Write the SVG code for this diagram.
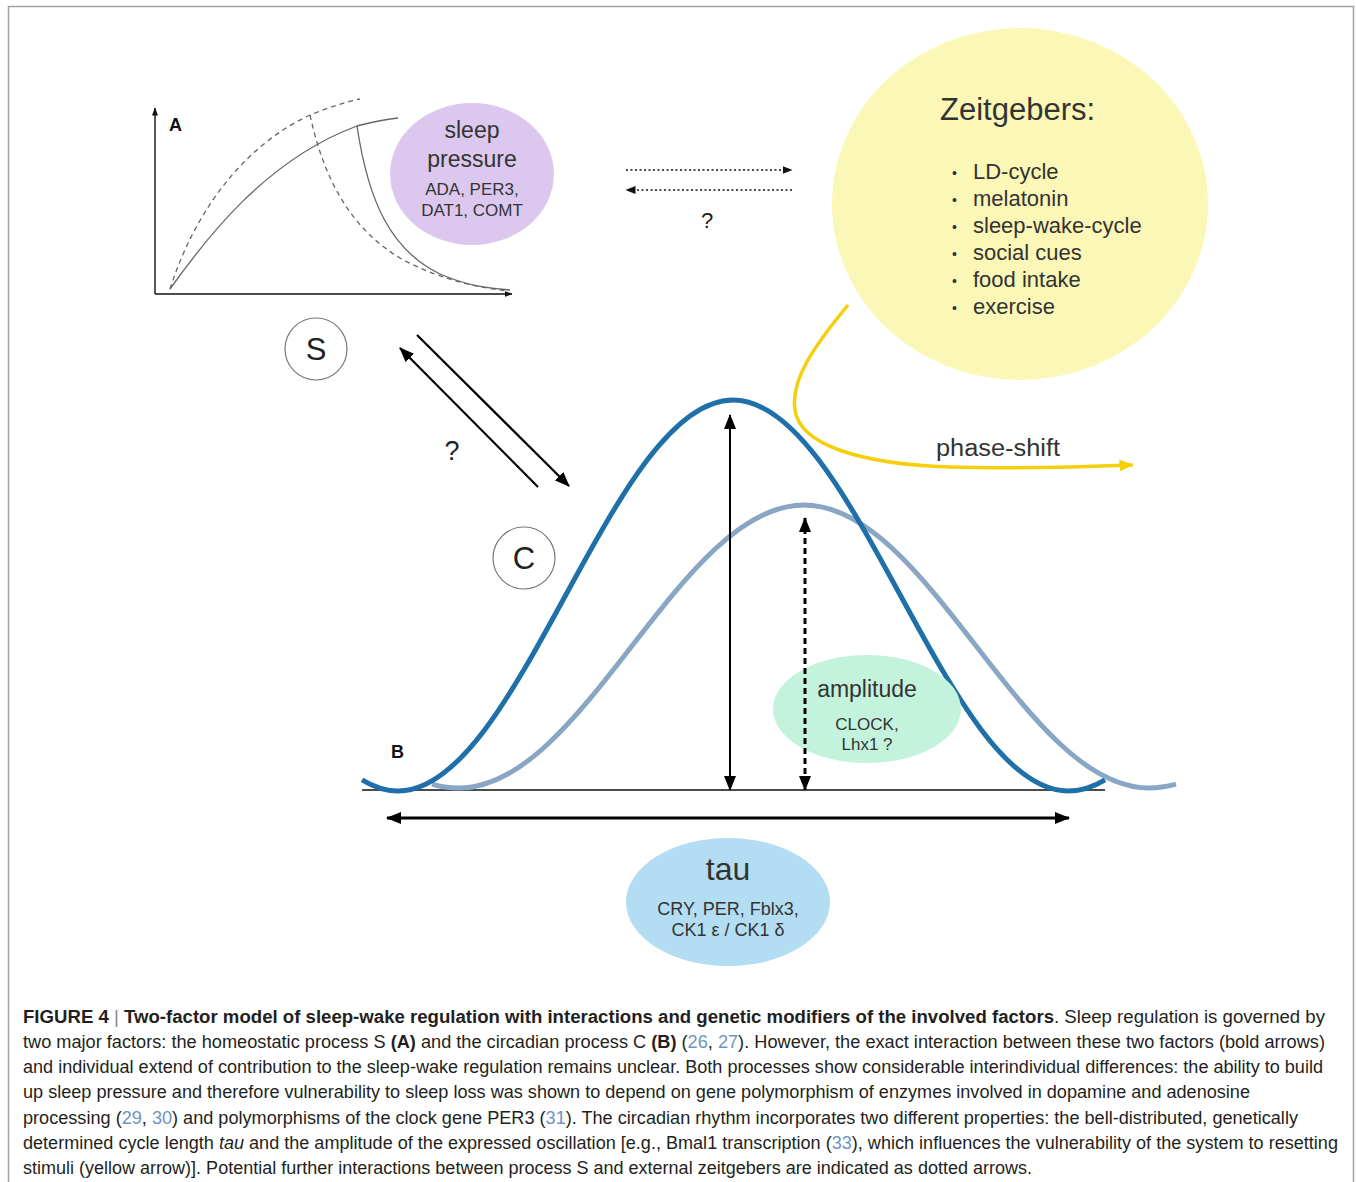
<svg xmlns="http://www.w3.org/2000/svg" width="1356" height="1182" viewBox="0 0 1356 1182">
<style>
  text { font-family: "Liberation Sans", Arial, sans-serif; }
  .lbl { fill: #333; }
  .cap { fill: #231f20; font-size: 17.5px; }
  .ref { fill: #6f93c2; }
  .b { font-weight: bold; }
  .ax { stroke: #111; stroke-width: 1.4; fill: none; }
  .sc { stroke: #666; stroke-width: 1.3; fill: none; }
  .scd { stroke: #666; stroke-width: 1.3; fill: none; stroke-dasharray: 5 4; }
  .node { stroke: #777; stroke-width: 1.2; fill: #fff; }
  .bold { stroke: #000; stroke-width: 2.2; fill: none; }
  .dot { stroke: #111; stroke-width: 1.6; fill: none; stroke-dasharray: 2 2.5; }
</style>
<defs>
  <marker id="ah" viewBox="0 0 15 12" refX="14" refY="6" markerWidth="15" markerHeight="12" markerUnits="userSpaceOnUse" orient="auto-start-reverse">
    <path d="M0,0 L15,6 L0,12 Z" fill="#000"/>
  </marker>
  <marker id="ahs" viewBox="0 0 8 6" refX="7.5" refY="3" markerWidth="8" markerHeight="6" markerUnits="userSpaceOnUse" orient="auto-start-reverse">
    <path d="M0,0 L8,3 L0,6 Z" fill="#111"/>
  </marker>
  <marker id="ahd" viewBox="0 0 10 8" refX="9.5" refY="4" markerWidth="10" markerHeight="8" markerUnits="userSpaceOnUse" orient="auto-start-reverse">
    <path d="M0,0 L10,4 L0,8 Z" fill="#111"/>
  </marker>
  <marker id="ahy" viewBox="0 0 14 12" refX="13.5" refY="6" markerWidth="14" markerHeight="12" markerUnits="userSpaceOnUse" orient="auto">
    <path d="M0,0 L14,6 L0,12 Z" fill="#f5cf0c"/>
  </marker>
</defs>

<rect x="8.5" y="6.5" width="1345" height="1195" fill="#fff" stroke="#a3a3a3" stroke-width="1.5"/>

<!-- Panel A plot -->
<g id="panelA">
  <path class="ax" d="M155,294 V108" marker-end="url(#ahs)"/>
  <path class="ax" d="M155,294 H512" marker-end="url(#ahs)"/>
  <text x="169" y="131" class="b" font-size="18" fill="#111">A</text>
  <path class="sc" d="M170,289 C205,240 265,160 357,126 Q380,120 398,118"/>
  <path class="sc" d="M357,126 C368,200 390,250 440,274 C470,287 490,288 510,290"/>
  <path class="scd" d="M170,289 C195,210 245,145 310,115 C330,107 345,102 360,99"/>
  <path class="scd" d="M310,115 C322,170 345,225 400,258 C440,280 480,288 508,291"/>
</g>

<g id="sleep-pressure">
  <ellipse cx="472" cy="174" rx="82" ry="71" fill="#dcc8ef"/>
  <text class="lbl" x="472" y="138" font-size="23" text-anchor="middle">sleep</text>
  <text class="lbl" x="472" y="167" font-size="23" text-anchor="middle">pressure</text>
  <text class="lbl" x="472" y="195" font-size="17" text-anchor="middle">ADA, PER3,</text>
  <text class="lbl" x="472" y="216" font-size="17" text-anchor="middle">DAT1, COMT</text>
</g>

<g id="zeitgebers">
  <ellipse cx="1020" cy="204" rx="188" ry="176" fill="#fbf7b6"/>
  <text class="lbl" x="940" y="120" font-size="31">Zeitgebers:</text>
  <g class="lbl" font-size="22">
    <text x="952" y="178" font-size="14">•</text><text x="973" y="179">LD-cycle</text>
    <text x="952" y="205" font-size="14">•</text><text x="973" y="206">melatonin</text>
    <text x="952" y="232" font-size="14">•</text><text x="973" y="233">sleep-wake-cycle</text>
    <text x="952" y="259" font-size="14">•</text><text x="973" y="260">social cues</text>
    <text x="952" y="286" font-size="14">•</text><text x="973" y="287">food intake</text>
    <text x="952" y="313" font-size="14">•</text><text x="973" y="314">exercise</text>
  </g>
</g>

<g id="node-S">
  <circle class="node" cx="316" cy="349" r="31"/>
  <text x="316" y="360" font-size="31" text-anchor="middle" fill="#222">S</text>
</g>

<g id="node-C">
  <circle class="node" cx="524" cy="558" r="31"/>
  <text x="524" y="569" font-size="31" text-anchor="middle" fill="#222">C</text>
</g>

<!-- Panel B curves -->
<g id="panelB">
  <line x1="362" y1="790" x2="1105" y2="790" stroke="#111" stroke-width="1.3"/>
  <path d="M432,784.1 Q444.4,788 459,788 C584.4,788 678.6,505 804,505 C929.4,505 1023.6,788 1149,788 Q1161.6,788 1176,784.1" fill="none" stroke="#8aa6c5" stroke-width="5"/>
  <path d="M362,779.8 Q380.5,791 398,791 C519.7,791 611.3,400 733,400 C854.7,400 946.3,791 1068,791 Q1086.5,791 1105,779.8" fill="none" stroke="#1f70a8" stroke-width="5"/>
  <text x="391" y="758" class="b" font-size="18" fill="#111">B</text>
</g>

<g id="amplitude">
  <ellipse cx="867" cy="709" rx="94" ry="54" fill="#c3f3dc"/>
  <text class="lbl" x="867" y="697" font-size="23" text-anchor="middle">amplitude</text>
  <text class="lbl" x="867" y="730" font-size="17" text-anchor="middle">CLOCK,</text>
  <text class="lbl" x="867" y="750" font-size="17" text-anchor="middle">Lhx1 ?</text>
</g>

<g id="tau">
  <ellipse cx="728" cy="902" rx="102" ry="64" fill="#b3ddf2"/>
  <text class="lbl" x="728" y="880" font-size="32" text-anchor="middle">tau</text>
  <text class="lbl" x="728" y="915" font-size="18" text-anchor="middle">CRY, PER, Fblx3,</text>
  <text class="lbl" x="728" y="936" font-size="18" text-anchor="middle">CK1 ε / CK1 δ</text>
</g>

<g id="connectors">
  <!-- S <-> zeitgebers dotted -->
  <path class="dot" d="M626,170 H792" marker-end="url(#ahd)"/>
  <path class="dot" d="M792,190 H626" marker-end="url(#ahd)"/>
  <text x="707" y="228" font-size="22" text-anchor="middle" fill="#222">?</text>
  <!-- S <-> C bold -->
  <path class="bold" d="M417,335 L569,486" marker-end="url(#ah)"/>
  <path class="bold" d="M538,487 L400,348" marker-end="url(#ah)"/>
  <text x="452" y="460" font-size="27" text-anchor="middle" fill="#222">?</text>
  <!-- phase shift -->
  <path d="M848,305 C815,345 790,380 795,410 C800,445 860,464 950,467 C1020,469 1080,467 1133,465" fill="none" stroke="#f5cf0c" stroke-width="3.5" marker-end="url(#ahy)"/>
  <text class="lbl" x="936" y="456" font-size="23" textLength="124" lengthAdjust="spacingAndGlyphs">phase-shift</text>
  <!-- amplitude arrows -->
  <path d="M730,415 V790" stroke="#000" stroke-width="2" fill="none" marker-start="url(#ah)" marker-end="url(#ah)"/>
  <path d="M805,518 V790" stroke="#000" stroke-width="3" stroke-dasharray="6 4" fill="none" marker-start="url(#ah)" marker-end="url(#ah)"/>
  <!-- tau arrow -->
  <path d="M387,818 H1069" stroke="#000" stroke-width="3" fill="none" marker-start="url(#ah)" marker-end="url(#ah)"/>
</g>

<g id="caption" class="cap">
  <text x="23" y="1023" textLength="1302" lengthAdjust="spacingAndGlyphs"><tspan class="b">FIGURE 4</tspan><tspan fill="#888"> | </tspan><tspan class="b">Two-factor model of sleep-wake regulation with interactions and genetic modifiers of the involved factors</tspan>. Sleep regulation is governed by</text>
  <text x="23" y="1048" textLength="1302" lengthAdjust="spacingAndGlyphs">two major factors: the homeostatic process S <tspan class="b">(A)</tspan> and the circadian process C <tspan class="b">(B)</tspan> (<tspan class="ref">26</tspan>, <tspan class="ref">27</tspan>). However, the exact interaction between these two factors (bold arrows)</text>
  <text x="23" y="1073" textLength="1300" lengthAdjust="spacingAndGlyphs">and individual extend of contribution to the sleep-wake regulation remains unclear. Both processes show considerable interindividual differences: the ability to build</text>
  <text x="23" y="1098" textLength="1227" lengthAdjust="spacingAndGlyphs">up sleep pressure and therefore vulnerability to sleep loss was shown to depend on gene polymorphism of enzymes involved in dopamine and adenosine</text>
  <text x="23" y="1124" textLength="1275" lengthAdjust="spacingAndGlyphs">processing (<tspan class="ref">29</tspan>, <tspan class="ref">30</tspan>) and polymorphisms of the clock gene PER3 (<tspan class="ref">31</tspan>). The circadian rhythm incorporates two different properties: the bell-distributed, genetically</text>
  <text x="23" y="1149" textLength="1315" lengthAdjust="spacingAndGlyphs">determined cycle length <tspan font-style="italic">tau</tspan> and the amplitude of the expressed oscillation [e.g., Bmal1 transcription (<tspan class="ref">33</tspan>), which influences the vulnerability of the system to resetting</text>
  <text x="23" y="1174" textLength="1009" lengthAdjust="spacingAndGlyphs">stimuli (yellow arrow)]. Potential further interactions between process S and external zeitgebers are indicated as dotted arrows.</text>
</g>
</svg>
